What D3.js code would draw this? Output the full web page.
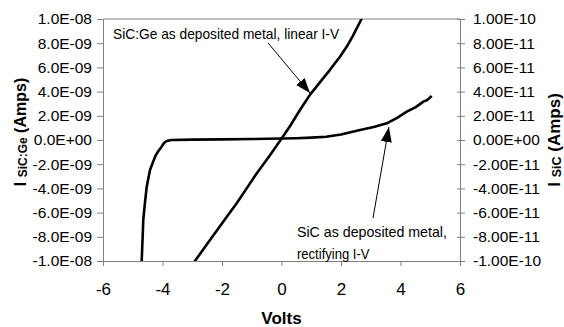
<!DOCTYPE html>
<html>
<head>
<meta charset="utf-8">
<script src="https://cdn.jsdelivr.net/npm/d3@7"></script>
<style>
  body { margin: 0; background: #fff; }
  svg { display: block; font-family: "Liberation Sans", Arial, sans-serif; }
  .axis path, .axis line { stroke: #808080; }
</style>
</head>
<body>
<div id="chart"></div>
<script>
// Axis ranges and ticks
const xTicks = [-6, -4, -2, 0, 2, 4, 6];
const leftTicks = [-1e-8, -8e-9, -6e-9, -4e-9, -2e-9, 0, 2e-9, 4e-9, 6e-9, 8e-9, 1e-8];
const rightTicks = [-1e-10, -8e-11, -6e-11, -4e-11, -2e-11, 0, 2e-11, 4e-11, 6e-11, 8e-11, 1e-10];

// SiC:Ge linear I-V (volts, amps on left axis)
const linearV = [-3.0, -2.91, -2.5, -1.96, -1.5, -1.2, -0.83, -0.4, 0.01, 0.3, 0.62, 0.96, 1.35, 1.63, 1.97, 2.19, 2.40, 2.69, 2.8];
const linearI = [-10.3e-9, -10e-9, -8.6e-9, -6.75e-9, -5.2e-9, -4.1e-9, -2.75e-9, -1.3e-9, 0.14e-9, 1.2e-9, 2.48e-9, 3.75e-9, 4.95e-9, 5.8e-9, 6.9e-9, 7.7e-9, 8.6e-9, 10e-9, 10.5e-9];

// SiC rectifying I-V (volts, amps on right axis)
const rectV = [-4.72, -4.70, -4.67, -4.646, -4.59, -4.53, -4.47, -4.42, -4.33, -4.25, -4.15, -4.03, -3.95, -3.86, -3.7, -3.0, -2.0, -1.0, 0.0, 0.5, 1.0, 1.5, 2.0, 2.64, 3.1, 3.54, 3.9, 4.21, 4.5, 4.77, 4.9, 5.05];
const rectI = [-10.6e-11, -10e-11, -8.2e-11, -6.6e-11, -5.2e-11, -3.86e-11, -3.1e-11, -2.48e-11, -1.9e-11, -1.38e-11, -0.95e-11, -0.55e-11, -0.25e-11, -0.08e-11, 0.0, 0.03e-11, 0.05e-11, 0.08e-11, 0.12e-11, 0.15e-11, 0.2e-11, 0.27e-11, 0.45e-11, 0.83e-11, 1.08e-11, 1.38e-11, 1.85e-11, 2.34e-11, 2.7e-11, 3.17e-11, 3.3e-11, 3.64e-11];

const width = 564, height = 327;
const margin = { top: 19, right: 104, bottom: 66, left: 103 };

const svg = d3.select('#chart').append('svg')
    .attr('width', width)
    .attr('height', height);

const x = d3.scaleLinear().domain([-6, 6]).range([margin.left, width - margin.right]);
const yL = d3.scaleLinear().domain([-1e-8, 1e-8]).range([height - margin.bottom, margin.top]);
const yR = d3.scaleLinear().domain([-1e-10, 1e-10]).range([height - margin.bottom, margin.top]);

// "1.0E-08" style labels
function fmtE(digits) {
    return v => {
        if (v === 0) return (0).toFixed(digits) + 'E+00';
        const exp = Math.floor(Math.log10(Math.abs(v)) + 1e-9);
        const mant = v / Math.pow(10, exp);
        const sign = exp < 0 ? '-' : '+';
        return mant.toFixed(digits) + 'E' + sign + String(Math.abs(exp)).padStart(2, '0');
    };
}

const x0 = x.range()[0], x1 = x.range()[1];
const yTop = yL.range()[1], yBot = yL.range()[0];

// Top border of plot area
svg.append('line')
    .attr('x1', x0).attr('x2', x1)
    .attr('y1', yTop).attr('y2', yTop)
    .attr('stroke', '#808080');

// Left axis
const gL = svg.append('g')
    .attr('class', 'axis')
    .attr('transform', `translate(${x0},0)`)
    .call(d3.axisLeft(yL).tickValues(leftTicks).tickFormat(fmtE(1)).tickSizeInner(6).tickSizeOuter(0).tickPadding(5));

// Right axis, ticks crossing the line
const gR = svg.append('g')
    .attr('class', 'axis')
    .attr('transform', `translate(${x1},0)`)
    .call(d3.axisRight(yR).tickValues(rightTicks).tickFormat(fmtE(2)).tickSizeInner(5).tickSizeOuter(0).tickPadding(8));
gR.selectAll('.tick line').attr('x1', -3);

// Bottom axis
const gB = svg.append('g')
    .attr('class', 'axis')
    .attr('transform', `translate(0,${yBot})`)
    .call(d3.axisBottom(x).tickValues(xTicks).tickFormat(d => String(d)).tickSizeInner(5).tickSizeOuter(0).tickPadding(17));

svg.selectAll('.axis').attr('font-family', null);
gL.selectAll('text').attr('font-size', 15.5).attr('fill', '#000');
gR.selectAll('text').attr('font-size', 15.5).attr('fill', '#000');
gB.selectAll('text').attr('font-size', 17).attr('fill', '#000');

// Clip curves to plot area
svg.append('clipPath').attr('id', 'plotClip')
    .append('rect')
    .attr('x', x0).attr('y', yTop)
    .attr('width', x1 - x0).attr('height', yBot - yTop);

const curves = svg.append('g').attr('clip-path', 'url(#plotClip)');

const lineL = d3.line().x(d => x(d[0])).y(d => yL(d[1]));
const lineR = d3.line().x(d => x(d[0])).y(d => yR(d[1]));

curves.append('path')
    .datum(linearV.map((v, i) => [v, linearI[i]]))
    .attr('d', lineL)
    .attr('fill', 'none')
    .attr('stroke', '#000')
    .attr('stroke-width', 2.6)
    .attr('stroke-linejoin', 'round');

curves.append('path')
    .datum(rectV.map((v, i) => [v, rectI[i]]))
    .attr('d', lineR)
    .attr('fill', 'none')
    .attr('stroke', '#000')
    .attr('stroke-width', 2.6)
    .attr('stroke-linejoin', 'round');

// Annotations
svg.append('defs').append('marker')
    .attr('id', 'arrowhead')
    .attr('markerUnits', 'userSpaceOnUse')
    .attr('markerWidth', 16)
    .attr('markerHeight', 12)
    .attr('refX', 15)
    .attr('refY', 5.5)
    .attr('orient', 'auto')
    .append('polygon')
    .attr('points', '0 0, 15 5.5, 0 11')
    .attr('fill', '#000');

svg.append('line')
    .attr('x1', x(-0.454)).attr('y1', yL(8.02e-9))
    .attr('x2', x(0.958)).attr('y2', yL(3.88e-9))
    .attr('stroke', '#000').attr('stroke-width', 1)
    .attr('marker-end', 'url(#arrowhead)');

svg.append('line')
    .attr('x1', x(3.076)).attr('y1', yR(-6.45e-11))
    .attr('x2', x(3.61)).attr('y2', yR(1.07e-11))
    .attr('stroke', '#000').attr('stroke-width', 1)
    .attr('marker-end', 'url(#arrowhead)');

svg.append('text')
    .attr('x', x(-5.66)).attr('y', yL(8.35e-9))
    .attr('font-size', 14.5)
    .attr('textLength', 226).attr('lengthAdjust', 'spacingAndGlyphs')
    .text('SiC:Ge as deposited metal, linear I-V');

svg.append('text')
    .attr('x', x(0.52)).attr('y', yR(-7.99e-11))
    .attr('font-size', 14.5)
    .attr('textLength', 150).attr('lengthAdjust', 'spacingAndGlyphs')
    .text('SiC as deposited metal,');

svg.append('text')
    .attr('x', x(0.52)).attr('y', yR(-7.99e-11) + 22.3)
    .attr('font-size', 14.5)
    .attr('textLength', 72.6).attr('lengthAdjust', 'spacingAndGlyphs')
    .text('rectifying I-V');

// Axis titles
svg.append('text')
    .attr('x', (x0 + x1) / 2).attr('y', 324)
    .attr('text-anchor', 'middle')
    .attr('font-size', 17).attr('font-weight', 'bold')
    .text('Volts');

const tL = svg.append('text')
    .attr('transform', 'translate(26,132) rotate(-90)')
    .attr('text-anchor', 'middle')
    .attr('font-weight', 'bold')
    .attr('font-size', 16);
tL.append('tspan').text('I ');
tL.append('tspan').attr('font-size', 12).attr('dy', 1).text('SiC:Ge');
tL.append('tspan').attr('dy', -1).text(' (Amps)');

const tR = svg.append('text')
    .attr('transform', 'translate(560,140) rotate(-90)')
    .attr('text-anchor', 'middle')
    .attr('font-weight', 'bold')
    .attr('font-size', 17);
tR.append('tspan').text('I ');
tR.append('tspan').attr('font-size', 12.5).attr('dy', 1).text('SiC');
tR.append('tspan').attr('dy', -1).text(' (Amps)');
</script>
</body>
</html>
